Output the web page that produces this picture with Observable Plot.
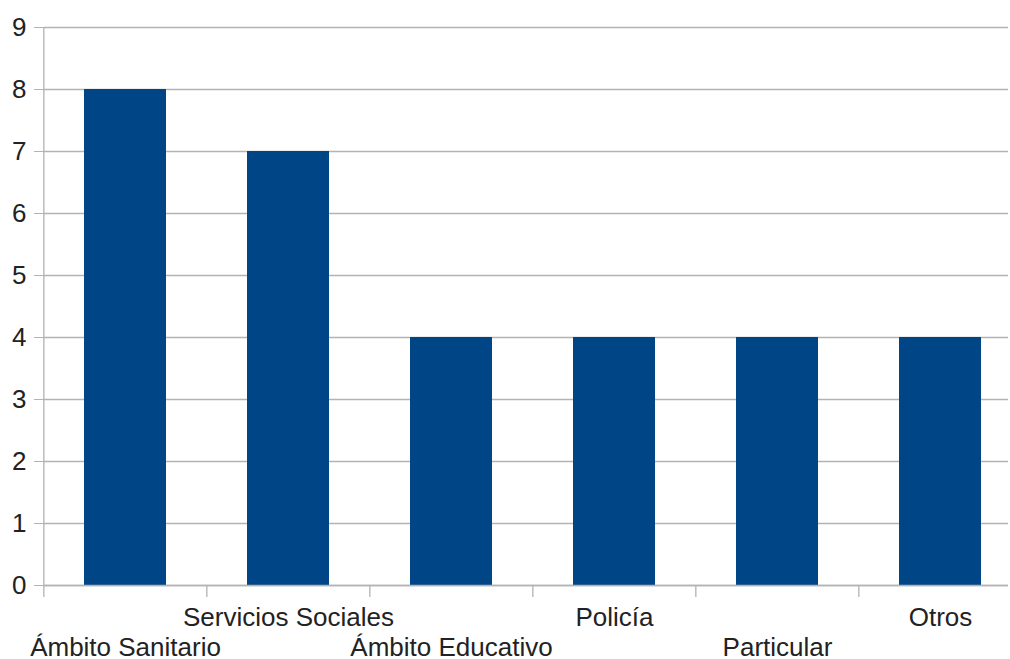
<!DOCTYPE html>
<html>
<head>
<meta charset="utf-8">
<script src="https://cdn.jsdelivr.net/npm/d3@7"></script>
<script src="https://cdn.jsdelivr.net/npm/@observablehq/plot@0.6"></script>
<style>
  html, body { margin: 0; padding: 0; background: #fff; }
  svg { display: block; font-family: "Liberation Sans", Arial, sans-serif; }
</style>
</head>
<body>
<div id="chart"></div>
<script>
const categories = ["Ámbito Sanitario", "Servicios Sociales", "Ámbito Educativo", "Policía", "Particular", "Otros"];
const values = [8, 7, 4, 4, 4, 4];
const yTicks = [0, 1, 2, 3, 4, 5, 6, 7, 8, 9];

const data = categories.map((c, i) => ({category: c, value: values[i], index: i}));

const W = 1010, H = 659;
const mLeft = 44, mRight = 2, mTop = 27, mBottom = 74;
const xRange = [42, 1022];
const step = (xRange[1] - xRange[0]) / categories.length;
const gray = "#b3b3b3";
const textColor = "#222";
const fs = 26;

const chart = Plot.plot({
  width: W,
  height: H,
  marginLeft: mLeft,
  marginRight: mRight,
  marginTop: mTop,
  marginBottom: mBottom,
  style: {fontFamily: '"Liberation Sans", Arial, sans-serif', background: "#fff"},
  x: {domain: categories, range: xRange, paddingInner: 0.5, paddingOuter: 0.25, axis: null},
  y: {domain: [0, 9], axis: null},
  marks: [
    Plot.gridY(yTicks, {stroke: gray, strokeOpacity: 1, strokeWidth: 1.3}),
    Plot.axisY(yTicks, {tickSize: 10, tickPadding: 8, fontSize: fs, stroke: gray, strokeOpacity: 1, fill: textColor, label: null, tickFormat: d3.format("d")}),
    Plot.barY(data, {x: "category", y: "value", fill: "#004586"}),
    Plot.ruleX(data, {
      x: "category",
      dx: -step / 2,
      y1: d => d.index === 0 ? 9 : 0,
      y2: 0,
      insetBottom: -12,
      stroke: gray,
      strokeWidth: 1.3
    }),
    Plot.ruleY([0], {stroke: gray, strokeWidth: 1.3}),
    Plot.text(data, {
      x: "category",
      y: 0,
      text: "category",
      fontSize: fs,
      fill: textColor,
      filter: d => d.index % 2 === 1,
      dy: 32
    }),
    Plot.text(data, {
      x: "category",
      y: 0,
      text: "category",
      fontSize: fs,
      fill: textColor,
      filter: d => d.index % 2 === 0,
      dy: 62
    })
  ]
});

document.getElementById("chart").appendChild(chart);
</script>
</body>
</html>
